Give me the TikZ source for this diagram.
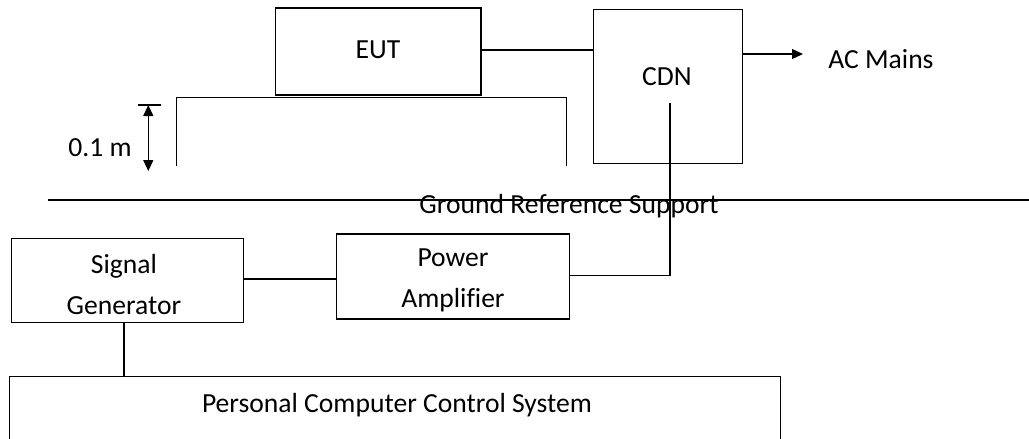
\documentclass[tikz,border=0pt]{standalone}
\usepackage{fontspec}
\setmainfont[Ligatures=NoCommon]{Carlito}
\usetikzlibrary{arrows.meta}
\begin{document}
\begin{tikzpicture}[x=0.5pt,y=-0.5pt,
  box/.style={draw,line width=0.6pt,inner sep=0pt,align=center},
  txt/.style={inner sep=0pt,font=\fontsize{13.8}{20.5}\selectfont},
  wire/.style={line width=0.6pt},
  heavy/.style={line width=1pt},
  tip/.style={-{Triangle[length=5.5pt,width=5pt]}}
]
\useasboundingbox (0,0) rectangle (1029,439);
\begin{scope}
\clip (0,0) rectangle (1029,439);
% EUT
\node[box,minimum width=102.75pt,minimum height=43.5pt] (eut) at (378.25,51.5) {};
\node[txt] (eutlabel) at (378,50) {EUT};
% CDN
\node[box,minimum width=74.4pt,minimum height=76.9pt] (cdn) at (667.9,86.2) {};
\node[txt] (cdnlabel) at (667,77) {CDN};
\coordinate (cdnin) at (670,103);
% AC mains
\node[txt,anchor=west] (ac) at (828,59) {AC Mains};
\coordinate (acend) at (803,54);
% table
\draw[wire] (176.7,166) -- (176.7,97.7) -- (566.4,97.7) -- (566.4,166);
% dimension
\coordinate (dimtop) at (148.3,105);
\coordinate (dimbot) at (148.3,171);
\draw[wire] (137.5,105) -- (160.7,105);
\draw[wire,{Triangle[length=5.5pt,width=5pt]}-{Triangle[length=5.5pt,width=5pt]}] (dimtop) -- (dimbot);
\node[txt] (dimlabel) at (100,148) {0.1 m};
% ground
\coordinate (gl) at (48,200);
\coordinate (gr) at (1029,200);
\draw[heavy] (gl) -- (gr);
\node[txt,anchor=base] (ground) at (569,213) {Ground Reference Support};
% signal generator
\node[box,minimum width=116.35pt,minimum height=42pt] (sg) at (127.5,280.3) {};
\node[txt,align=center] (sglabel) at (124,285) {Signal\\Generator};
% power amplifier
\node[box,minimum width=116.35pt,minimum height=42.5pt] (pa) at (453,276.5) {};
\node[txt,align=center] (palabel) at (453,280.5) {Power\\Amplifier};
% PC
\node[box,minimum width=385.2pt,minimum height=60pt,anchor=north west] (pc) at (9.2,376) {};
\node[txt] (pclabel) at (397,405) {Personal Computer Control System};
% connectors
\draw[line width=0.8pt] (eut.east |- 0,50) -- (cdn.west |- 0,50);
\draw[wire,tip] (cdn.east |- acend) -- (acend);
\draw[wire] (pa.east |- 0,275.7) -| (cdnin);
\draw[line width=0.8pt] (sg.east |- 0,279) -- (pa.west |- 0,279);
\draw[wire] (sg.south -| 124,0) -- (pc.north -| 124,0);
\end{scope}
\end{tikzpicture}
\end{document}
